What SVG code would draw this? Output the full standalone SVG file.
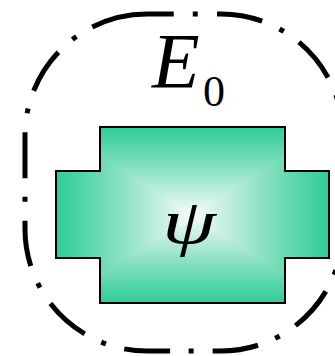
<svg xmlns="http://www.w3.org/2000/svg" width="335" height="356" viewBox="0 0 335 356">
  <defs>
    <style>
      .frame { fill: none; stroke: #000; stroke-width: 5; stroke-linecap: butt; }
      .math { font-family: "Liberation Serif", "Times New Roman", serif; fill: #000; }
      .shape { fill: none; stroke: #000; stroke-width: 2; }
    </style>
    <linearGradient id="gh" x1="56" y1="0" x2="329" y2="0" gradientUnits="userSpaceOnUse">
      <stop offset="0" stop-color="#2dcc96"/>
      <stop offset="0.25" stop-color="#8ee2c4"/>
      <stop offset="0.5" stop-color="#f6fcf9"/>
      <stop offset="0.75" stop-color="#8ee2c4"/>
      <stop offset="1" stop-color="#2dcc96"/>
    </linearGradient>
    <linearGradient id="gv" x1="0" y1="127" x2="0" y2="303" gradientUnits="userSpaceOnUse">
      <stop offset="0" stop-color="#2dcc96"/>
      <stop offset="0.25" stop-color="#8ee2c4"/>
      <stop offset="0.5" stop-color="#f6fcf9"/>
      <stop offset="0.75" stop-color="#8ee2c4"/>
      <stop offset="1" stop-color="#2dcc96"/>
    </linearGradient>
    <clipPath id="crossClip">
      <polygon points="100,127 285,127 285,171 329,171 329,258 285,258 285,303 100,303 100,258 56,258 56,171 100,171"/>
    </clipPath>
  </defs>
  <g id="container">
    <path class="frame" d="M217,14 H221 A122,122 0 0 1 343,136 V229 A122,122 0 0 1 221,351 H147 A122,122 0 0 1 25,229 V136 A122,122 0 0 1 147,14 Z" stroke-dasharray="46 19 5 18.5 46 19 5 18.5 46 19 5 18.5 46 19 5 18.5 46 19 5 18.5 46 19 5 18.5 46 19 5 18.5 46 19 5 18.5 46 19 5 18.5 46 19 5 18.5 46 19 5 18.5 83.5 19 5 19.55"/>
    <text class="math" x="152" y="87" font-size="78" font-style="italic">E</text>
    <text class="math" x="203" y="106" font-size="44">0</text>
  </g>
  <g id="psi-node">
    <g clip-path="url(#crossClip)">
      <rect x="56" y="127" width="273" height="176" fill="url(#gh)"/>
      <polygon points="56,127 329,127 192.5,215" fill="url(#gv)"/>
      <polygon points="56,303 329,303 192.5,215" fill="url(#gv)"/>
    </g>
    <polygon class="shape" points="100,127 285,127 285,171 329,171 329,258 285,258 285,303 100,303 100,258 56,258 56,171 100,171"/>
    <text class="math" font-size="64" font-style="italic" text-anchor="middle" transform="translate(189 243) scale(1.35 1)">ψ</text>
  </g>
</svg>
